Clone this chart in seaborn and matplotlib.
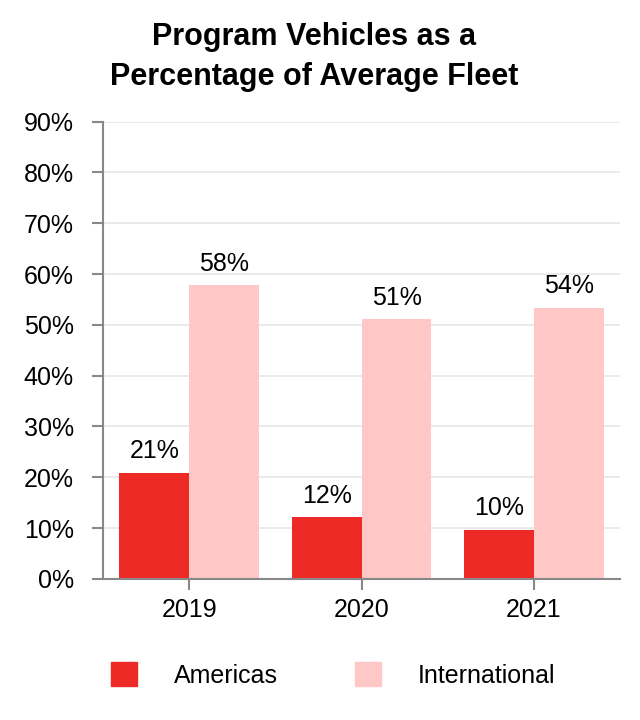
import matplotlib
matplotlib.use("Agg")
import matplotlib.pyplot as plt
import seaborn as sns
import pandas as pd

# Datos del gráfico
years = ["2019", "2020", "2021"]
americas = [20.8, 12.1, 9.7]
international = [57.8, 51.1, 53.4]
americas_labels = ["21%", "12%", "10%"]
international_labels = ["58%", "51%", "54%"]
regions = ["Americas", "International"]
colors = ["#EE2A27", "#FFC7C5"]

df = pd.DataFrame({
    "year": years * 2,
    "value": americas + international,
    "region": ["Americas"] * 3 + ["International"] * 3,
})

sns.set_style("white")
plt.rcParams['font.family'] = ['Liberation Sans', 'DejaVu Sans']
plt.rcParams['text.color'] = 'black'
plt.rcParams['xtick.labelcolor'] = 'black'
plt.rcParams['ytick.labelcolor'] = 'black'

fs = 18
fig = plt.figure(figsize=(6.4, 7.2), dpi=100)
ax = fig.add_axes([0.161, 0.196, 0.808, 0.635])

sns.barplot(data=df, x="year", y="value", hue="region", hue_order=regions,
            palette=colors, width=0.81, saturation=1, linewidth=0,
            ax=ax, legend=False)

for cont, labs in zip(ax.containers, [americas_labels, international_labels]):
    ax.bar_label(cont, labels=labs, padding=7, fontsize=fs, color="black")

ax.set_ylim(0, 90)
ax.set_xlim(-0.5, 2.5)
ax.set_yticks(range(0, 91, 10))
ax.set_yticklabels([f"{v}%" for v in range(0, 91, 10)], fontsize=fs)
ax.tick_params(axis='x', labelsize=fs, length=8, width=1.5, color="#888888",
               direction="out", bottom=True, pad=6)
ax.tick_params(axis='y', length=8, width=1.5, color="#888888",
               direction="out", left=True, pad=13)
ax.yaxis.grid(True, color="#E6E6E6", linewidth=1.2)
ax.set_axisbelow(True)
ax.set_xlabel("")
ax.set_ylabel("")
for s in ["top", "right"]:
    ax.spines[s].set_visible(False)
for s in ["left", "bottom"]:
    ax.spines[s].set_color("#888888")
    ax.spines[s].set_linewidth(1.5)

fig.text(0.491, 1 - 85 / 720, "Program Vehicles as a\nPercentage of Average Fleet",
         ha="center", va="baseline", fontsize=22, fontweight="bold",
         linespacing=1.45, color="black")

handles = [plt.Rectangle((0, 0), 1, 1, color=c) for c in colors]
fig.legend(handles, regions, loc="center", bbox_to_anchor=(0.52, 0.0625),
           ncol=2, frameon=False, fontsize=fs, handlelength=1.04,
           handleheight=1.04, handletextpad=1.48, columnspacing=3.08)

fig.savefig("out.png", dpi=100)
